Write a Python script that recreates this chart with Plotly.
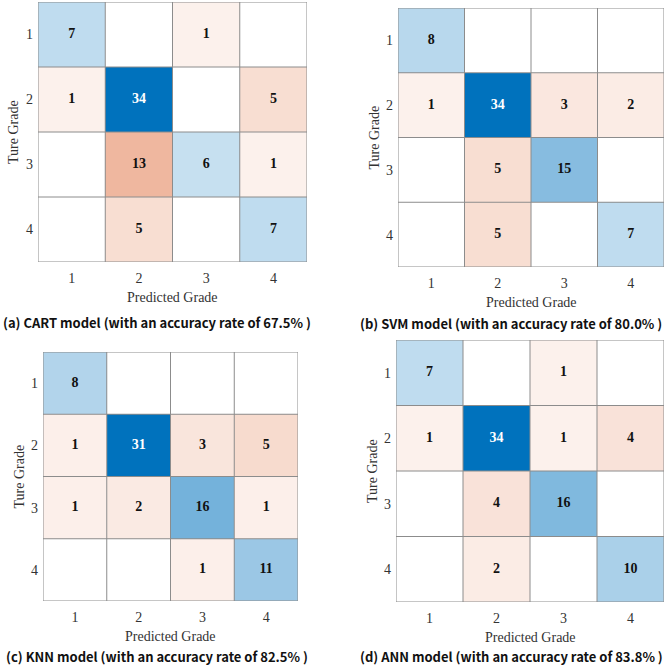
import plotly.graph_objects as go

grades = ["1", "2", "3", "4"]

cart = [[7, 0, 1, 0],
        [1, 34, 0, 5],
        [0, 13, 6, 1],
        [0, 5, 0, 7]]
svm = [[8, 0, 0, 0],
       [1, 34, 3, 2],
       [0, 5, 15, 0],
       [0, 5, 0, 7]]
knn = [[8, 0, 0, 0],
       [1, 31, 3, 5],
       [1, 2, 16, 1],
       [0, 0, 1, 11]]
ann = [[7, 0, 1, 0],
       [1, 34, 1, 4],
       [0, 4, 16, 0],
       [0, 2, 0, 10]]

captions = [
    "(a) CART model (with an accuracy rate of 67.5% )",
    "(b) SVM model (with an accuracy rate of 80.0% )",
    "(c) KNN model (with an accuracy rate of 82.5% )",
    "(d) ANN model (with an accuracy rate of 83.8% )",
]
matrices = [cart, svm, knn, ann]

W, H = 669, 666
# plot areas in pixels: (left, right, top, bottom)
boxes = [(38, 307, 2, 262), (398, 664, 8, 267), (43, 298, 352, 601), (396, 664, 340, 602)]
cap_pos = [(1, 322), (358, 323), (4, 656), (358, 656)]

BLUE = "#0072BD"
RED = "#D95319"
SERIF = "Liberation Serif"

fig = go.Figure()
n = len(grades)
idx = list(range(1, n + 1))

for p, (M, box, cap, cp) in enumerate(zip(matrices, boxes, captions, cap_pos)):
    ax = "" if p == 0 else str(p + 1)
    xa, ya = "x" + ax, "y" + ax
    zmax = max(max(r) for r in M)
    zmin = -2
    zd = [[M[i][j] if (i == j and M[i][j] > 0) else None for j in range(n)] for i in range(n)]
    zo = [[M[i][j] if (i != j and M[i][j] > 0) else None for j in range(n)] for i in range(n)]
    for z, col in ((zd, BLUE), (zo, RED)):
        fig.add_trace(go.Heatmap(z=z, x=idx, y=idx, xaxis=xa, yaxis=ya,
                                 colorscale=[[0, "#ffffff"], [1, col]],
                                 zmin=zmin, zmax=zmax, showscale=False,
                                 hoverinfo="skip"))
    tx, ty, tt, tc = [], [], [], []
    for i in range(n):
        for j in range(n):
            if M[i][j] > 0:
                tx.append(j + 1); ty.append(i + 1); tt.append(str(M[i][j]))
                tc.append("#ffffff" if M[i][j] > 0.6 * zmax else "#111111")
    fig.add_trace(go.Scatter(x=tx, y=ty, text=tt, mode="text", xaxis=xa, yaxis=ya,
                             textfont=dict(family=SERIF, size=14, color=tc, weight="bold"),
                             showlegend=False, hoverinfo="skip"))
    l, r, t, b = box
    fig.layout["xaxis" + ax] = dict(domain=[l / W, r / W], anchor=ya, range=[0.5, n + 0.5],
                                    tickvals=idx, ticktext=grades, showgrid=False, zeroline=False,
                                    ticks="", ticklabelstandoff=6,
                                    tickfont=dict(family=SERIF, size=14, color="#333333"),
                                    fixedrange=True)
    fig.layout["yaxis" + ax] = dict(domain=[1 - b / H, 1 - t / H], anchor=xa, range=[n + 0.5, 0.5],
                                    tickvals=idx, ticktext=grades, showgrid=False, zeroline=False,
                                    ticks="", ticklabelstandoff=4,
                                    tickfont=dict(family=SERIF, size=14, color="#333333"),
                                    fixedrange=True)
    # cell grid lines
    for k in range(n + 1):
        fig.add_shape(type="line", xref=xa, yref=ya, x0=k + 0.5, x1=k + 0.5, y0=0.5, y1=n + 0.5,
                      line=dict(color="#8c8c8c", width=1), layer="above")
        fig.add_shape(type="line", xref=xa, yref=ya, y0=k + 0.5, y1=k + 0.5, x0=0.5, x1=n + 0.5,
                      line=dict(color="#8c8c8c", width=1), layer="above")
    # axis titles
    fig.add_annotation(text="Predicted Grade", xref="paper", yref="paper",
                       x=(l + r) / 2 / W, y=1 - (b + 35) / H, showarrow=False,
                       xanchor="center", yanchor="middle",
                       font=dict(family=SERIF, size=14, color="#333333"))
    fig.add_annotation(text="Ture Grade", xref="paper", yref="paper",
                       x=(l - 24) / W, y=1 - (t + b) / 2 / H, showarrow=False, textangle=-90,
                       xanchor="center", yanchor="middle",
                       font=dict(family=SERIF, size=14, color="#333333"))
    fig.add_annotation(text=cap, xref="paper", yref="paper",
                       x=cp[0] / W, y=1 - cp[1] / H, showarrow=False,
                       xanchor="left", yanchor="middle",
                       font=dict(family="Noto Sans CJK JP", size=13, color="#111111", weight="bold"))

fig.update_layout(width=W, height=H, margin=dict(l=0, r=0, t=0, b=0),
                  paper_bgcolor="white", plot_bgcolor="white", showlegend=False)
fig.write_html("out.html")
